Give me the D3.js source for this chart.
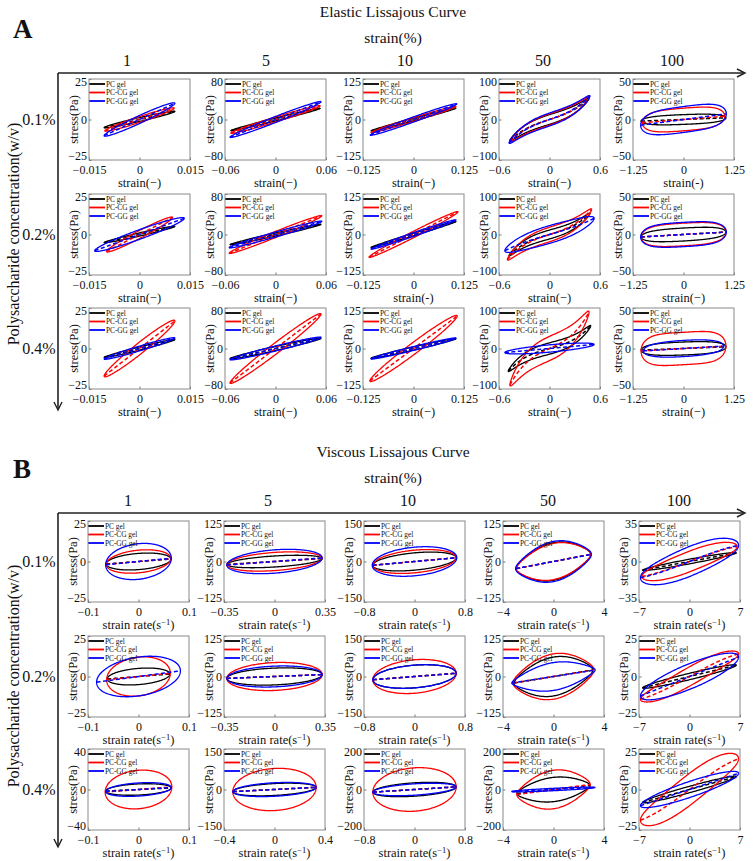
<!DOCTYPE html>
<html><head><meta charset="utf-8">
<script src="https://cdn.jsdelivr.net/npm/d3@7"></script>
<style>
body{margin:0;background:#fff}
svg{display:block}
text{font-family:"Liberation Serif","Times New Roman",serif;fill:#111}
</style>
</head><body>
<svg id="chart" width="753" height="861"></svg>
<script>
// ---------------- DATA ----------------
const strainLevels = ["1", "5", "10", "50", "100"];          // strain (%) columns
const concentrations = ["0.1%", "0.2%", "0.4%"];           // polysaccharide concentration rows
const gels = ["PC gel", "PC-CG gel", "PC-GG gel"];
const gelColors = ["#000000", "#ff0000", "#0000ff"];

// Elastic Lissajous axes (symmetric limits)
const elasticXLim = [0.015, 0.06, 0.125, 0.6, 1.25];
const elasticYLim = [[25, 80, 125, 100, 50], [25, 80, 125, 100, 50], [25, 80, 125, 100, 50]];
const elasticXLabel = [
  ["strain(−)", "strain(−)", "strain(−)", "strain(−)", "strain(-)"],
  ["strain(−)", "strain(−)", "strain(-)", "strain(−)", "strain(−)"],
  ["strain(−)", "strain(−)", "strain(−)", "strain(−)", "strain(−)"]
];
// Viscous Lissajous axes
const viscousXLim = [[0.1, 0.35, 0.8, 4, 7], [0.1, 0.35, 0.8, 4, 7], [0.1, 0.4, 0.8, 4, 7]];
const viscousYLim = [[25, 125, 150, 125, 35], [25, 125, 150, 125, 25], [40, 150, 200, 200, 25]];

// Curve parameters, indexed [gel][row][col]
// Elastic panels: strain amplitude, elastic stress at max strain (dashed end),
// loop half-height at zero strain, elastic / viscous cubic shape factors
const elasticStrainAmp = [
  [[0.0105, 0.053, 0.105, 0.47, 1.05], [0.0105, 0.054, 0.105, 0.48, 1.05], [0.0105, 0.054, 0.105, 0.49, 1.05]],
  [[0.0103, 0.053, 0.105, 0.47, 1.02], [0.0098, 0.055, 0.110, 0.50, 1.05], [0.0105, 0.054, 0.108, 0.47, 1.05]],
  [[0.0105, 0.054, 0.107, 0.48, 1.06], [0.0133, 0.055, 0.105, 0.53, 1.06], [0.0105, 0.054, 0.105, 0.53, 1.00]]
];
const elasticStressIn = [
  [[5, 22, 35, 52, 2], [5, 20, 40, 52, 3], [5.5, 20, 30, 56, 2]],
  [[7, 27, 40, 55, 4], [10.5, 37, 70, 62, 3], [17, 68, 100, 90, 3]],
  [[10, 35, 48, 58, 7], [10, 26, 45, 40, 3], [6.5, 22, 32, 10, 3]]
];
const elasticStressOut = [
  [[1.2, 3, 4, 12, 6], [1, 3, 4, 11, 8], [1, 4, 5, 14, 8]],
  [[1.8, 5, 6, 14, 14], [2.5, 6, 10, 18, 14], [4, 12, 20, 30, 20]],
  [[2.5, 6, 8, 16, 16], [3, 5, 6, 22, 15], [1.5, 5, 6, 9, 10]]
];
const elasticShapeIn = [
  [[0, 0, 0, 0.4, 0], [0, 0, 0, 0.45, 0], [0, 0, 0, 0.5, 0]],
  [[0, 0, 0, 0.4, 0], [0, 0, 0, 0.45, 0], [0, 0, 0, 0.5, 0]],
  [[0, 0, 0, 0.4, 0], [0, 0, 0, 0.2, 0], [0, 0, 0, 0, 0]]
];
const elasticShapeOut = [
  [[0, 0, 0, 0, -0.3], [0, 0, 0, 0, -0.3], [0, 0, 0, 0, -0.3]],
  [[0, 0, 0, 0, -0.4], [0, 0, 0, 0, -0.4], [0, 0, 0, 0, -0.5]],
  [[0, 0, 0, 0, -0.4], [0, 0, 0, 0, -0.4], [0, 0, 0, 0, -0.2]]
];
// Viscous panels: strain-rate amplitude, loop half-height at zero rate,
// viscous stress at max rate (dashed end), elastic / viscous cubic shape factors
const viscousRateAmp = [
  [[0.064, 0.33, 0.66, 2.95, 6.5], [0.062, 0.33, 0.66, 3.1, 6.5], [0.065, 0.33, 0.66, 2.9, 6.5]],
  [[0.064, 0.33, 0.66, 2.95, 6.6], [0.063, 0.33, 0.66, 3.2, 6.8], [0.066, 0.33, 0.66, 2.9, 6.8]],
  [[0.065, 0.33, 0.67, 3.0, 6.8], [0.083, 0.33, 0.66, 3.3, 6.8], [0.065, 0.33, 0.66, 3.3, 6.8]]
];
const viscousStressIn = [
  [[5, 17, 32, 58, 2], [5, 26, 42, 60, 2], [5.5, 22, 33, 60, 2]],
  [[7, 28, 42, 56, 9], [12, 43, 62, 70, 6], [19, 78, 107, 95, 10]],
  [[11, 36, 53, 62, 13], [12, 32, 42, 43, 8], [6.5, 25, 28, 6, 5]]
];
const viscousStressOut = [
  [[1.5, 9, 14, 22, 7.5], [1.5, 6, 12, 20, 7], [1.5, 8, 13, 20, 8]],
  [[1.8, 10, 14, 22, 13], [2, 6, 12, 20, 14], [2.5, 8, 13, 25, 19]],
  [[2, 11, 14, 22, 14], [3.5, 6, 12, 20, 12], [2, 8, 13, 10, 10]]
];
const viscousShapeIn = [
  [[0, 0, 0, 0.4, 0], [0, 0, 0, 0.4, 0], [0, 0, 0, 0.4, 0]],
  [[0, 0, 0, 0.4, 0], [0, 0, 0, 0.4, 0], [0, 0, 0, 0.4, 0]],
  [[0, 0, 0, 0.4, 0], [0, 0, 0, 0.5, 0], [0, 0, 0, 0, 0]]
];
const viscousShapeOut = [
  [[0, 0, 0, 0, 0], [0, 0, 0, 0, 0], [0, 0, 0, 0, 0]],
  [[0, 0, 0, 0, -0.2], [0, 0, 0, 0, -0.2], [0, 0, 0, 0, -0.2]],
  [[0, 0, 0, 0, -0.2], [0, 0, 0, 0, 0], [0, 0, 0, 0, 0]]
];

// ---------------- LAYOUT ----------------
const svg = d3.select("#chart");
const PW = 101, PH = 81;
const sections = [
  {
    letter: "A", title: "Elastic Lissajous Curve", mode: "elastic",
    titleY: 17, letterY: 38, subY: 43, colLabelY: 66, arrowY: 73, arrowEnd: 410,
    lefts: [89, 225, 363, 499, 633], rowTops: [79, 194, 308],
    colLabelX: [127, 266, 405, 543, 672], ylabelY: 234,
    xLim: (r, c) => elasticXLim[c], yLim: (r, c) => elasticYLim[r][c],
    xLabel: (r, c) => elasticXLabel[r][c],
    params: (g, r, c) => ({
      X: elasticStrainAmp[g][r][c], E: elasticStressIn[g][r][c], V: elasticStressOut[g][r][c],
      N: elasticShapeIn[g][r][c], M: elasticShapeOut[g][r][c]
    })
  },
  {
    letter: "B", title: "Viscous Lissajous Curve", mode: "viscous",
    titleY: 457, letterY: 478, subY: 483, colLabelY: 506, arrowY: 513, arrowEnd: 847,
    lefts: [88, 224, 364, 503, 639], rowTops: [521, 636, 749],
    colLabelX: [128, 268, 408, 548, 679], ylabelY: 676,
    xLim: (r, c) => viscousXLim[r][c], yLim: (r, c) => viscousYLim[r][c],
    xLabel: null,
    params: (g, r, c) => ({
      X: viscousRateAmp[g][r][c], E: viscousStressIn[g][r][c], V: viscousStressOut[g][r][c],
      N: viscousShapeIn[g][r][c], M: viscousShapeOut[g][r][c]
    })
  }
];

const fmt = v => v < 0 ? "−" + String(-v) : String(v);
const NS = 240;

function loopPts(p, mode) {
  return d3.range(NS + 1).map(i => {
    const t = 2 * Math.PI * i / NS, u = Math.sin(t), w = Math.cos(t);
    const s = p.E * (u + p.N * (u * u * u - u)) + p.V * (w + p.M * (w * w * w - w));
    return [(mode === "elastic" ? u : w) * p.X, s];
  });
}
function dashPts(p, mode) {
  return d3.range(NS + 1).map(i => {
    const s = -1 + 2 * i / NS;
    const y = mode === "elastic" ? p.E * (s + p.N * (s * s * s - s)) : p.V * (s + p.M * (s * s * s - s));
    return [s * p.X, y];
  });
}

let clipId = 0;
sections.forEach(sec => {
  const g = svg.append("g");
  // headers
  g.append("text").attr("x", 13).attr("y", sec.letterY).attr("font-size", 27).attr("font-weight", "bold").text(sec.letter);
  g.append("text").attr("x", 393).attr("y", sec.titleY).attr("text-anchor", "middle").attr("font-size", 15.5).text(sec.title);
  g.append("text").attr("x", 393).attr("y", sec.subY).attr("text-anchor", "middle").attr("font-size", 15.5).text("strain(%)");
  strainLevels.forEach((s, c) => {
    g.append("text").attr("x", sec.colLabelX[c]).attr("y", sec.colLabelY).attr("text-anchor", "middle").attr("font-size", 16).text(s);
  });
  // arrows
  g.append("line").attr("x1", 58).attr("x2", 744).attr("y1", sec.arrowY).attr("y2", sec.arrowY).attr("stroke", "#222").attr("stroke-width", 1.6);
  g.append("path").attr("d", `M737,${sec.arrowY - 4}L745,${sec.arrowY}L737,${sec.arrowY + 4}`).attr("fill", "none").attr("stroke", "#222").attr("stroke-width", 1.4);
  g.append("line").attr("x1", 58).attr("x2", 58).attr("y1", sec.arrowY).attr("y2", sec.arrowEnd - 1).attr("stroke", "#222").attr("stroke-width", 1.6);
  g.append("path").attr("d", `M54,${sec.arrowEnd - 8}L58,${sec.arrowEnd}L62,${sec.arrowEnd - 8}`).attr("fill", "none").attr("stroke", "#222").attr("stroke-width", 1.4);
  g.append("text").attr("transform", `translate(19,${sec.ylabelY}) rotate(-90)`).attr("text-anchor", "middle").attr("font-size", 16)
    .text("Polysaccharide concentration(w/v)");
  concentrations.forEach((cl, r) => {
    g.append("text").attr("x", 39).attr("y", sec.rowTops[r] + PH / 2 + 5).attr("text-anchor", "middle").attr("font-size", 16).text(cl);
  });

  // panels
  concentrations.forEach((cl, r) => {
    strainLevels.forEach((sl, c) => {
      const left = sec.lefts[c], top = sec.rowTops[r];
      const xl = sec.xLim(r, c), yl = sec.yLim(r, c);
      const x = d3.scaleLinear().domain([-xl, xl]).range([left, left + PW]);
      const y = d3.scaleLinear().domain([-yl, yl]).range([top + PH, top]);
      const pg = g.append("g");
      const id = "clip" + (clipId++);
      pg.append("clipPath").attr("id", id).append("rect").attr("x", left).attr("y", top).attr("width", PW).attr("height", PH);
      pg.append("rect").attr("x", left).attr("y", top).attr("width", PW).attr("height", PH).attr("fill", "#fff");

      // axes with d3 axis generators (ticks inward)
      const xTicks = [-xl, 0, xl], yTicks = [-yl, 0, yl];
      const xa = pg.append("g").attr("transform", `translate(0,${top + PH})`)
        .call(d3.axisBottom(x).tickValues(xTicks).tickFormat(fmt).tickSizeInner(-2.5).tickSizeOuter(0).tickPadding(5));
      const ya = pg.append("g").attr("transform", `translate(${left},0)`)
        .call(d3.axisLeft(y).tickValues(yTicks).tickFormat(fmt).tickSizeInner(-2.5).tickSizeOuter(0).tickPadding(4));
      [xa, ya].forEach(a => {
        a.select(".domain").remove();
        a.selectAll(".tick line").attr("stroke", "#777");
        a.selectAll(".tick text").attr("font-size", 12).attr("font-family", "Liberation Serif, serif").attr("fill", "#111");
      });
      ya.selectAll(".tick text").attr("x", -2)
        .attr("transform", d => d > 0 ? "translate(0,3)" : d < 0 ? "translate(0,-4)" : null);

      // curves
      const line = d3.line().x(d => x(d[0])).y(d => y(d[1]));
      const cg = pg.append("g").attr("clip-path", `url(#${id})`);
      gels.forEach((gn, gi) => {
        const p = sec.params(gi, r, c);
        cg.append("path").attr("d", line(loopPts(p, sec.mode))).attr("fill", "none")
          .attr("stroke", gelColors[gi]).attr("stroke-width", 1.3);
        cg.append("path").attr("d", line(dashPts(p, sec.mode))).attr("fill", "none")
          .attr("stroke", gelColors[gi]).attr("stroke-width", 1.5).attr("stroke-dasharray", "4,2.5");
      });

      // legend
      gels.forEach((gn, gi) => {
        const ly = top + 5 + gi * 8.5;
        pg.append("line").attr("x1", left).attr("x2", left + 16).attr("y1", ly).attr("y2", ly)
          .attr("stroke", gelColors[gi]).attr("stroke-width", 1.8);
        pg.append("text").attr("x", left + 17).attr("y", ly + 2.5).attr("font-size", 7.3).text(gn);
      });

      // frame
      pg.append("rect").attr("x", left).attr("y", top).attr("width", PW).attr("height", PH)
        .attr("fill", "none").attr("stroke", "#8a8a8a").attr("stroke-width", 1);

      // axis titles
      const ty = top + PH + 27;
      if (sec.mode === "elastic") {
        pg.append("text").attr("x", left + PW / 2).attr("y", ty).attr("text-anchor", "middle").attr("font-size", 12.5).text(sec.xLabel(r, c));
      } else {
        const t = pg.append("text").attr("x", left + PW / 2).attr("y", ty).attr("text-anchor", "middle").attr("font-size", 12.5);
        t.append("tspan").text("strain rate(s");
        t.append("tspan").attr("dy", -4.5).attr("font-size", 8.5).text("−1");
        t.append("tspan").attr("dy", 4.5).text(")");
      }
      pg.append("text").attr("transform", `translate(${left - 11},${top + PH / 2}) rotate(-90)`).attr("text-anchor", "middle")
        .attr("font-size", 12.5).text("stress(Pa)");
    });
  });
});
</script>
</body></html>
